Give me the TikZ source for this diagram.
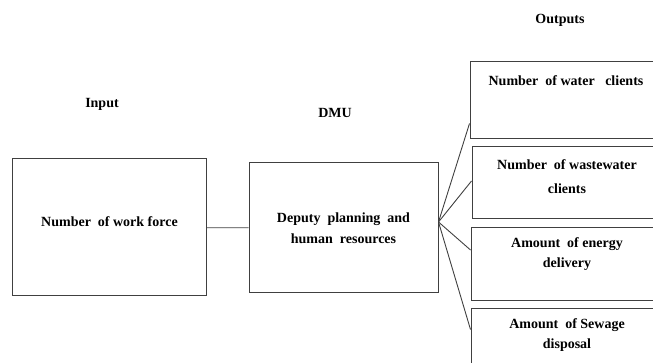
\documentclass[tikz,border=0pt]{standalone}
\usepackage{fontspec}
\setmainfont{Liberation Serif}
\usetikzlibrary{positioning}

\begin{document}
\begin{tikzpicture}[x=1pt,y=-1pt,node distance=7pt,
  font=\fontsize{14}{21}\selectfont\bfseries,
  box/.style={draw=black!75,line width=1pt,align=center,inner sep=0pt},
  outbox/.style={box,minimum width=192pt,minimum height=72pt},
  outtext/.style={anchor=north,align=center},
  wire/.style={draw=black!75,line width=0.9pt}]

\useasboundingbox (0,0) rectangle (653,363);

% headings
\node (hin) at (102,104) {Input};
\node (hdmu) at (335,113) {DMU};
\node (hout) at (560,20) {Outputs};

% input and decision making unit
\node (input) [box,minimum width=194pt,minimum height=137pt] at (109.5,227.5) {};
\node (intext) at (109.5,222) {Number\ \ of work force};
\node (dmu) [box,minimum width=189pt,minimum height=130pt] at (343.5,228) {Deputy\ \ planning\ \ and\\human\ \ resources};

% outputs
\node (out1) [outbox,minimum height=77pt] at (566,100.5) {};
\node (out2) [outbox,below=7pt of out1.south east,anchor=north east,minimum width=190pt] {};
\node (out3) [outbox,below=8pt of out2] {};
\node (out4) [outbox,below=7pt of out3] {};

\node (t1) [outtext] at ([yshift=-11pt]out1.north) {Number\ \ of water\ \ \ clients};
\node (t2) [outtext] at ([yshift=-10pt]out2.north) {Number\ \ of wastewater\\[3pt]clients};
\node (t3) [outtext] at ([yshift=-7pt]out3.north) {Amount\ \ of energy\\[-1pt]delivery};
\node (t4) [outtext] at ([yshift=-8pt]out4.north) {Amount\ \ of Sewage\\[-1pt]disposal};

\coordinate (hub) at ([yshift=6pt]dmu.east);

\path[wire]
(input) edge (dmu)
(hub) edge ([yshift=16pt]out1.south west)
      edge ([yshift=2pt]out2.west)
      edge ([yshift=14pt]out3.west)
      edge ([yshift=-22pt]out4.north west);

\end{tikzpicture}
\end{document}
